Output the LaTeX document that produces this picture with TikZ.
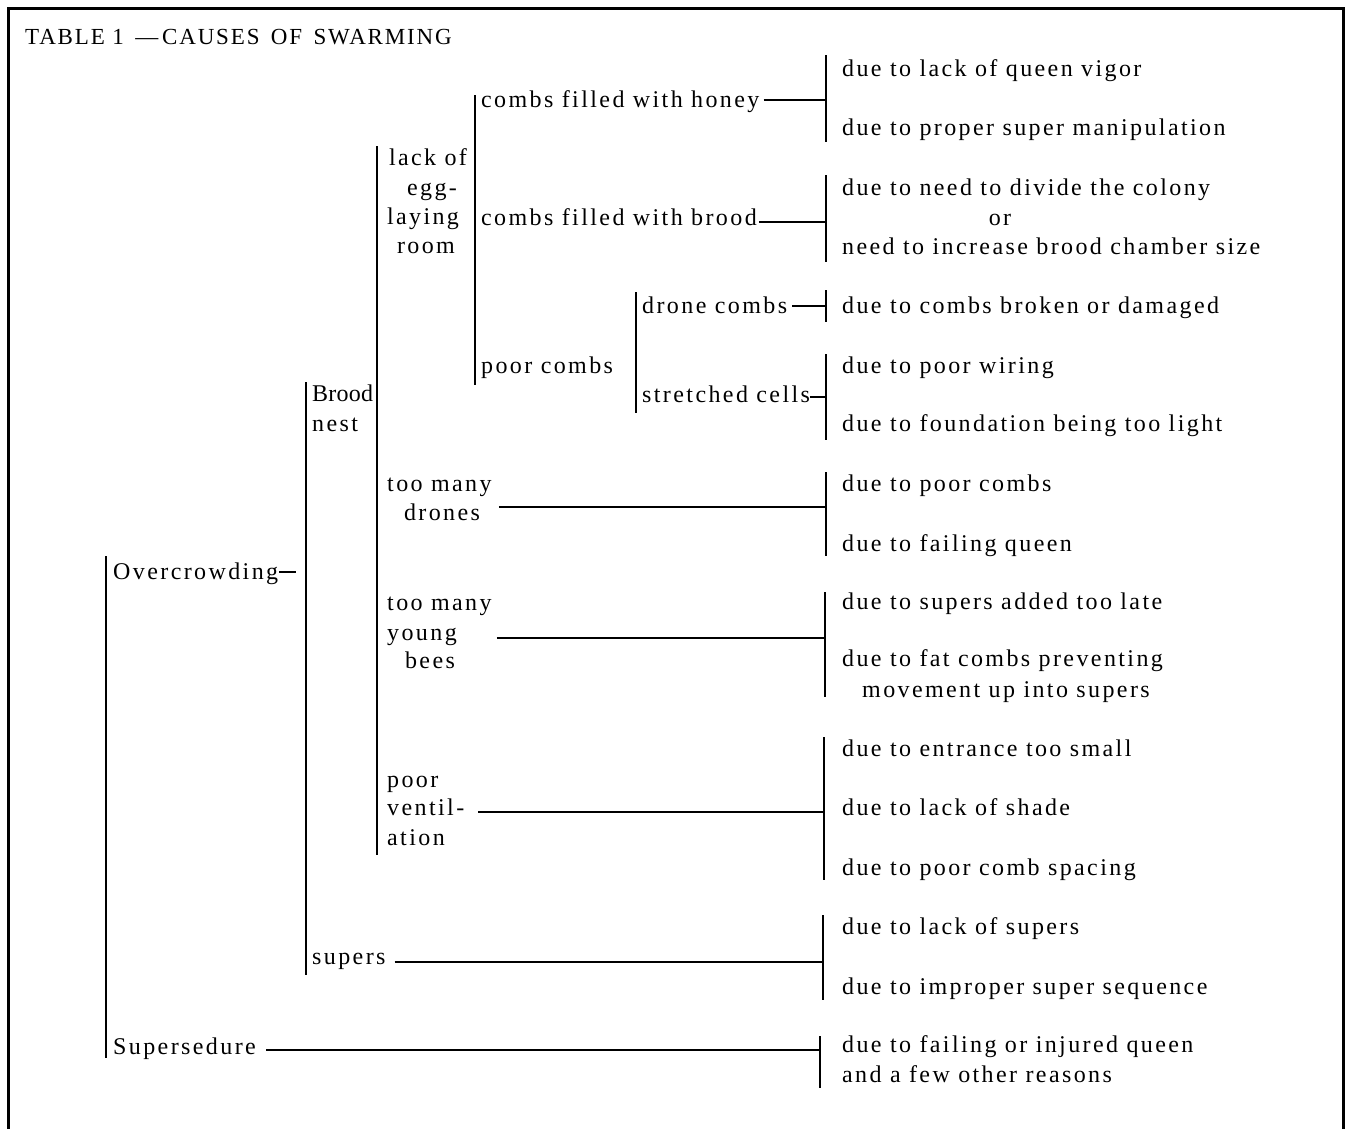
\documentclass[tikz,border=0pt]{standalone}
\usepackage{fontspec}
\setmainfont{Liberation Serif}[LetterSpace=10]
\newfontfamily\titlefont{Liberation Serif}[LetterSpace=8]
\newfontfamily\tightfont{Liberation Serif}[LetterSpace=1]
\usetikzlibrary{calc}
\begin{document}
\begin{tikzpicture}[x=1pt,y=-1pt,
  txt/.style={anchor=mid west, inner sep=0pt, yshift=-5pt, font=\fontsize{24}{29}\selectfont},
  ctxt/.style={anchor=mid, inner sep=0pt, yshift=-5pt, font=\fontsize{24}{29}\selectfont},
  brk/.style={line width=2.6pt},
  stem/.style={line width=2.2pt},
  frame/.style={line width=3pt}]
\useasboundingbox (0,0) rectangle (1346,1128);
% frame
\draw[frame] (8,1130) -- (8,8) -- (1343,8) -- (1343,1130);
% title
\node[anchor=mid west, inner sep=0pt, yshift=-5pt, font=\titlefont\fontsize{23}{26}\selectfont] (title) at (25,37) {TABLE 1 \,—\,CAUSES\, OF\, SWARMING};

% right column
\node[txt] (r1) at (842,69) {due to lack of queen vigor};
\node[txt] (r2) at (842,128) {due to proper super manipulation};
\node[txt] (r3) at (842,188) {due to need to divide the colony};
\node[ctxt] (r3or) at (1000,218) {or};
\node[txt] (r4) at (842,247) {need to increase brood chamber size};
\node[txt] (r5) at (842,306) {due to combs broken or damaged};
\node[txt] (r6) at (842,366) {due to poor wiring};
\node[txt] (r7) at (842,424) {due to foundation being too light};
\node[txt] (r8) at (842,484) {due to poor combs};
\node[txt] (r9) at (842,544) {due to failing queen};
\node[txt] (r10) at (842,602) {due to supers added too late};
\node[txt] (r11) at (842,659) {due to fat combs preventing};
\node[txt] (r11b) at (862,690) {movement up into supers};
\node[txt] (r12) at (842,749) {due to entrance too small};
\node[txt] (r13) at (842,808) {due to lack of shade};
\node[txt] (r14) at (842,868) {due to poor comb spacing};
\node[txt] (r15) at (842,927) {due to lack of supers};
\node[txt] (r16) at (842,987) {due to improper super sequence};
\node[txt] (r17) at (842,1045) {due to failing or injured queen};
\node[txt] (r17b) at (842,1075) {and a few other reasons};

% middle labels
\node[txt] (honey) at (481,100) {combs filled with honey};
\node[txt] (brood) at (481,218) {combs filled with brood};
\node[txt] (poor) at (481,366) {poor combs};
\node[txt] (drone) at (642,306) {drone combs};
\node[txt] (stretch) at (642,395) {stretched cells};
\node[ctxt] (lack1) at (428,158) {lack of};
\node[ctxt] (lack2) at (432,188) {egg-};
\node[ctxt] (lack3) at (423,217) {laying};
\node[ctxt] (lack4) at (426,246) {room};
\node[txt] (tmd1) at (387,484) {too many};
\node[ctxt] (tmd2) at (442,513) {drones};
\node[txt] (tmy1) at (387,603) {too many};
\node[txt] (tmy2) at (387,633) {young};
\node[ctxt] (tmy3) at (430,661) {bees};
\node[txt] (pv1) at (387,780) {poor};
\node[txt] (pv2) at (387,808) {ventil-};
\node[txt] (pv3) at (387,838) {ation};
\node[txt, font=\tightfont\fontsize{24}{29}\selectfont] (bn1) at (312,394) {Brood};
\node[txt] (bn2) at (312,424) {nest};
\node[txt] (supers) at (312,957) {supers};
\node[txt] (over) at (113,572) {Overcrowding};
\node[txt] (supersed) at (113,1047) {Supersedure};

% bracket coordinates
\coordinate (b1t) at (826,55);  \coordinate (b1m) at (826,100); \coordinate (b1b) at (826,142);
\coordinate (b2t) at (826,175); \coordinate (b2m) at (826,222); \coordinate (b2b) at (826,262);
\coordinate (b3t) at (826,290); \coordinate (b3m) at (826,306); \coordinate (b3b) at (826,322);
\coordinate (b4t) at (826,354); \coordinate (b4m) at (826,397); \coordinate (b4b) at (826,440);
\coordinate (b5t) at (826,472); \coordinate (b5m) at (826,507); \coordinate (b5b) at (826,556);
\coordinate (b6t) at (825,592); \coordinate (b6m) at (825,638); \coordinate (b6b) at (825,697);
\coordinate (b7t) at (824,737); \coordinate (b7m) at (824,812); \coordinate (b7b) at (824,880);
\coordinate (b8t) at (823,915); \coordinate (b8m) at (823,962); \coordinate (b8b) at (823,1000);
\coordinate (b9t) at (820,1036); \coordinate (b9m) at (820,1050); \coordinate (b9b) at (820,1088);
\foreach \i in {1,...,9} {\draw[brk] (b\i t) -- (b\i b);}

% left brackets
\coordinate (vot) at (106,556);  \coordinate (vob) at (106,1058);
\coordinate (vbt) at (306,382);  \coordinate (vbb) at (306,975);
\coordinate (vlt) at (377,146);  \coordinate (vlb) at (377,855);
\coordinate (vct) at (475,95);   \coordinate (vcb) at (475,385);
\coordinate (vdt) at (636,292);  \coordinate (vdb) at (636,413);
\draw[brk] (vot) -- (vob);
\draw[brk] (vbt) -- (vbb);
\draw[brk] (vlt) -- (vlb);
\draw[brk] (vct) -- (vcb);
\draw[brk] (vdt) -- (vdb);

% stems
\draw[stem] ($(honey.east |- b1m)+(4,0)$) -- (b1m);
\draw[stem] ($(brood.east |- b2m)+(2,0)$) -- (b2m);
\draw[stem] ($(drone.east |- b3m)+(5,0)$) -- (b3m);
\draw[stem] (stretch.east |- b4m) -- (b4m);
\draw[stem] ($(tmd1.east |- b5m)+(7,0)$) -- (b5m);
\draw[stem] ($(tmy1.east |- b6m)+(5,0)$) -- (b6m);
\draw[stem] ($(pv2.east |- b7m)+(14,0)$) -- (b7m);
\draw[stem] ($(supers.east |- b8m)+(9,0)$) -- (b8m);
\draw[stem] ($(supersed.east |- b9m)+(10,0)$) -- (b9m);
\coordinate (overend) at (296,572);
\draw[stem] ($(over.east |- overend)+(1,0)$) -- (overend);
\end{tikzpicture}
\end{document}
